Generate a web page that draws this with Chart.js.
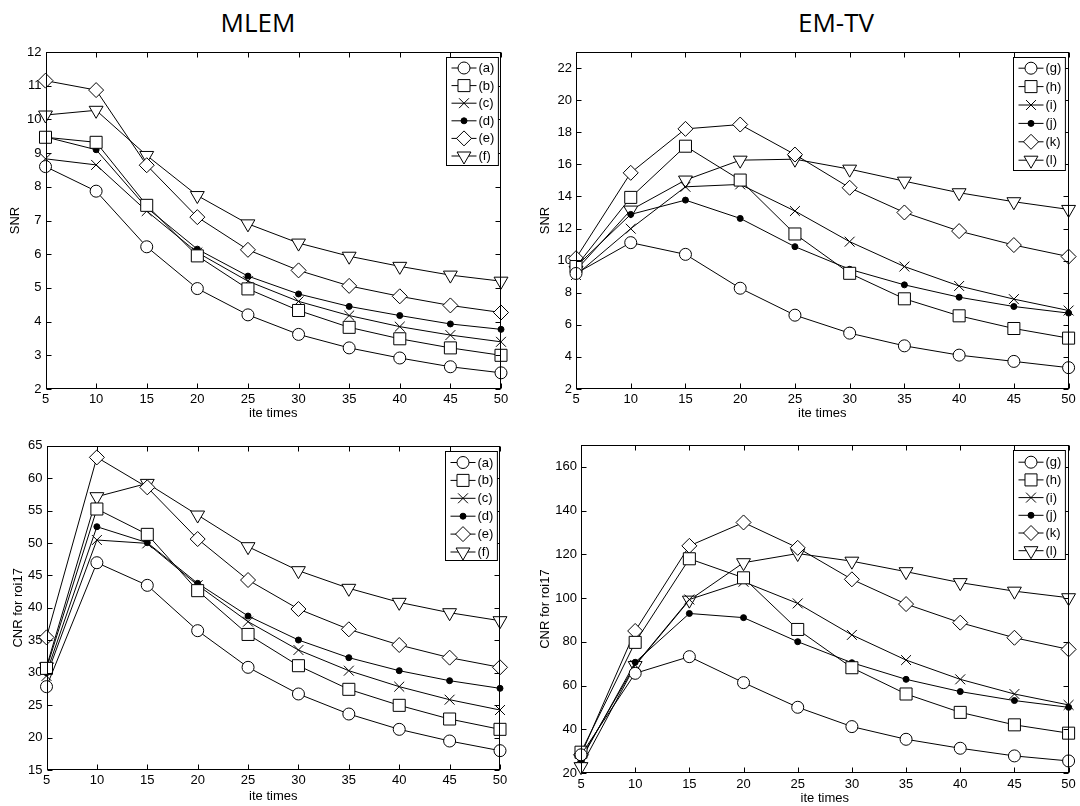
<!DOCTYPE html>
<html><head><meta charset="utf-8">
<script src="https://cdn.jsdelivr.net/npm/chart.js@4/dist/chart.umd.min.js"></script>
<style>
body{margin:0;background:#fff;width:1080px;height:806px;overflow:hidden;position:relative;font-family:"Liberation Sans",Arial,sans-serif}
.title{position:absolute;font-family:"Open Sans",sans-serif;font-size:26px;color:#000;transform:translate(-50%,-50%);white-space:nowrap;line-height:1}
.wrap{position:absolute}
</style></head><body>
<div class="title" style="left:258px;top:22px">MLEM</div>
<div class="title" style="left:836px;top:22px">EM-TV</div>
<div class="wrap" style="left:0px;top:40px;width:540px;height:381px"><canvas id="c1"></canvas></div>
<div class="wrap" style="left:538px;top:40px;width:542px;height:381px"><canvas id="c2"></canvas></div>
<div class="wrap" style="left:0px;top:425px;width:540px;height:381px"><canvas id="c3"></canvas></div>
<div class="wrap" style="left:538px;top:425px;width:542px;height:381px"><canvas id="c4"></canvas></div>
<script>
// ---------- data ----------
const iterations = [5,10,15,20,25,30,35,40,45,50];
const mlemLabels = ['(a)','(b)','(c)','(d)','(e)','(f)'];
const emtvLabels = ['(g)','(h)','(i)','(j)','(k)','(l)'];

const mlemSnrA = [8.6,7.87,6.22,4.98,4.2,3.62,3.22,2.92,2.66,2.48];
const mlemSnrB = [9.47,9.32,7.45,5.95,4.97,4.33,3.83,3.49,3.22,3.0];
const mlemSnrC = [8.83,8.65,7.28,6.05,5.2,4.6,4.18,3.85,3.6,3.4];
const mlemSnrD = [9.48,9.1,7.38,6.15,5.35,4.82,4.45,4.18,3.93,3.77];
const mlemSnrE = [11.15,10.87,8.64,7.1,6.13,5.52,5.06,4.75,4.48,4.27];
const mlemSnrF = [10.13,10.27,8.93,7.74,6.9,6.33,5.94,5.64,5.38,5.2];

const emtvSnrG = [9.2,11.12,10.39,8.28,6.6,5.48,4.69,4.11,3.72,3.33];
const emtvSnrH = [9.63,13.94,17.13,15.02,11.66,9.21,7.62,6.56,5.77,5.17];
const emtvSnrI = [9.1,11.99,14.6,14.75,13.09,11.18,9.63,8.42,7.6,6.89];
const emtvSnrJ = [9.63,12.88,13.77,12.63,10.87,9.46,8.49,7.72,7.14,6.73];
const emtvSnrK = [10.15,15.47,18.21,18.48,16.61,14.54,13.0,11.84,10.97,10.25];
const emtvSnrL = [9.4,13.15,15.02,16.26,16.32,15.7,14.95,14.23,13.67,13.19];

const mlemCnrA = [27.85,46.96,43.47,36.48,30.83,26.72,23.63,21.27,19.47,17.98];
const mlemCnrB = [30.67,55.24,51.33,42.65,35.9,31.08,27.44,24.97,22.86,21.27];
const mlemCnrC = [29.5,50.46,49.94,43.5,37.87,33.5,30.31,27.85,25.84,24.25];
const mlemCnrD = [30.0,52.51,50.05,43.78,38.74,35.04,32.32,30.31,28.77,27.59];
const mlemCnrE = [35.45,63.2,58.58,50.61,44.29,39.82,36.69,34.27,32.32,30.83];
const mlemCnrF = [30.9,57.14,59.19,54.31,49.43,45.73,43.01,40.85,39.25,38.02];

const emtvCnrG = [28.4,65.65,73.26,61.39,50.13,41.3,35.5,31.4,27.9,25.6];
const emtvCnrH = [29.6,79.8,118,109.3,85.7,68.2,56.2,47.8,42.1,38.3];
const emtvCnrI = [26.8,69.5,99.4,107.5,97.6,83.2,71.7,62.9,56.2,51.2];
const emtvCnrJ = [26.1,70.7,93.0,91.1,80.1,70.5,62.9,57.3,53.2,50.1];
const emtvCnrK = [28.4,85.0,123.9,134.6,123.0,108.6,97.3,88.8,81.9,76.6];
const emtvCnrL = [23.0,69.2,99.1,116.2,120.4,116.9,112.1,107.1,103.2,100.2];

const xRange = [5,50];
const mlemSnrTicks = [2,3,4,5,6,7,8,9,10,11,12];
const mlemSnrRange = [2,12];
const emtvSnrTicks = [2,4,6,8,10,12,14,16,18,20,22];
const emtvSnrRange = [2,23];
const mlemCnrTicks = [15,20,25,30,35,40,45,50,55,60,65];
const mlemCnrRange = [15,65];
const emtvCnrTicks = [20,40,60,80,100,120,140,160];
const emtvCnrRange = [20,170];

// ---------- styles ----------
const markerStyles = [
  {pointStyle:'circle', radius:6, fill:'#fff', rotation:0},
  {pointStyle:'rect', radius:8.5, fill:'#fff', rotation:0},
  {pointStyle:'crossRot', radius:7, fill:'#fff', rotation:0},
  {pointStyle:'circle', radius:3, fill:'#000', rotation:0},
  {pointStyle:'rectRot', radius:7.5, fill:'#fff', rotation:0},
  {pointStyle:'triangle', radius:8, fill:'#fff', rotation:180}
];
const FONT = '"Liberation Sans", Arial, sans-serif';

const boxPlugin = {
  id:'matlabBox',
  afterDatasetsDraw(chart){
    const {ctx, chartArea:a, scales} = chart;
    ctx.save();
    ctx.strokeStyle = '#000'; ctx.lineWidth = 1;
    const L = Math.round(a.left)+0.5, R = Math.round(a.right)-0.5, T = Math.round(a.top)+0.5, B = Math.round(a.bottom)-0.5;
    ctx.beginPath();
    scales.x.ticks.forEach(t=>{
      const px = Math.round(scales.x.getPixelForValue(t.value))+0.5;
      ctx.moveTo(px,B); ctx.lineTo(px,B-5);
      ctx.moveTo(px,T); ctx.lineTo(px,T+5);
    });
    scales.y.ticks.forEach(t=>{
      const py = Math.round(scales.y.getPixelForValue(t.value))+0.5;
      ctx.moveTo(L,py); ctx.lineTo(L+5,py);
      ctx.moveTo(R,py); ctx.lineTo(R-5,py);
    });
    ctx.stroke();
    ctx.strokeRect(L,T,R-L,B-T);
    ctx.restore();
  },
  afterDraw(chart){
    const o = chart.options.plugins.matlabBox;
    if(!o) return;
    const {ctx, chartArea:a} = chart;
    const ds = chart.data.datasets;
    ctx.save();
    ctx.font = o.fontSize + 'px ' + FONT;
    let tw = 0;
    ds.forEach(d=>{ tw = Math.max(tw, ctx.measureText(d.label).width); });
    const lineW = 25, padL = 5, gap = 2, padR = 4;
    const w = padL + lineW + gap + tw + padR;
    const h = o.height;
    const x0 = Math.round(a.right - o.rightGap - w)+0.5, y0 = Math.round(a.top + o.topGap)+0.5;
    ctx.fillStyle = '#fff';
    ctx.fillRect(x0,y0,w,h);
    ctx.strokeStyle = '#000'; ctx.lineWidth = 1;
    ctx.strokeRect(x0,y0,w,h);
    ds.forEach((d,i)=>{
      const cy = y0 + o.firstRow + i*o.rowH;
      ctx.beginPath();
      ctx.moveTo(x0+padL, cy); ctx.lineTo(x0+padL+lineW, cy);
      ctx.lineWidth = 1; ctx.strokeStyle = '#000'; ctx.stroke();
      ctx.fillStyle = d.pointBackgroundColor;
      ctx.strokeStyle = '#000';
      Chart.helpers.drawPoint(ctx, {pointStyle:d.pointStyle, radius:d.pointRadius, rotation:d.pointRotation, borderWidth:1}, x0+padL+lineW/2, cy);
      ctx.fillStyle = '#000';
      ctx.textBaseline = 'middle'; ctx.textAlign = 'left';
      ctx.fillText(d.label, x0+padL+lineW+gap, cy+0.5);
    });
    ctx.restore();
  }
};

function makeChart(id, labels, series, yTicks, yRange, yTitle, L){
  const datasets = series.map((vals,i)=>{
    const m = markerStyles[i];
    return {
      label: labels[i],
      data: iterations.map((x,j)=>({x:x, y:vals[j]})),
      borderColor:'#000', borderWidth:1, tension:0, fill:false,
      pointStyle:m.pointStyle, pointRadius:m.radius, pointRotation:m.rotation,
      pointBackgroundColor:m.fill, pointBorderColor:'#000', pointBorderWidth:1,
      pointHoverRadius:m.radius, clip:false
    };
  });
  return new Chart(document.getElementById(id), {
    type:'line',
    data:{datasets},
    plugins:[boxPlugin],
    options:{
      responsive:true, maintainAspectRatio:false, animation:false,
      layout:{padding:{top:L.top, right:L.right, left:0, bottom:L.bottom||0}},
      plugins:{legend:{display:false}, tooltip:{enabled:false},
        matlabBox:{fontSize:13, height:L.legH, rowH:L.rowH, firstRow:L.firstRow, topGap:5, rightGap:3.5}},
      scales:{
        x:{type:'linear', min:xRange[0], max:xRange[1],
          afterBuildTicks(s){ s.ticks = iterations.map(v=>({value:v})); },
          afterFit(s){ s.height = L.xh; },
          grid:{display:false, drawTicks:false}, border:{display:false},
          ticks:{color:'#000', font:{family:FONT, size:13}, padding:3, maxRotation:0, autoSkip:false},
          title:{display:true, text:'ite times', color:'#000', font:{family:FONT, size:13}, padding:{top:0,bottom:0}}
        },
        y:{type:'linear', min:yRange[0], max:yRange[1],
          afterBuildTicks(s){ s.ticks = yTicks.map(v=>({value:v})); },
          afterFit(s){ s.width = L.yw; },
          grid:{display:false, drawTicks:false}, border:{display:false},
          ticks:{color:'#000', font:{family:FONT, size:13}, padding:4, autoSkip:false},
          title:{display:true, text:yTitle, color:'#000', font:{family:FONT, size:13}, padding:{top:L.ytp,bottom:0}}
        }
      }
    }
  });
}

makeChart('c1', mlemLabels, [mlemSnrA,mlemSnrB,mlemSnrC,mlemSnrD,mlemSnrE,mlemSnrF], mlemSnrTicks, mlemSnrRange, 'SNR',
  {top:12, right:39, xh:32, yw:45.5, ytp:8, legH:108, rowH:17.6, firstRow:10.5});
makeChart('c2', emtvLabels, [emtvSnrG,emtvSnrH,emtvSnrI,emtvSnrJ,emtvSnrK,emtvSnrL], emtvSnrTicks, emtvSnrRange, 'SNR',
  {top:12, right:11.4, xh:32, yw:38, ytp:0, legH:113, rowH:18.4, firstRow:10.7});
makeChart('c3', mlemLabels, [mlemCnrA,mlemCnrB,mlemCnrC,mlemCnrD,mlemCnrE,mlemCnrF], mlemCnrTicks, mlemCnrRange, 'CNR for roi17',
  {top:20.7, right:40, xh:34.5, yw:46.5, ytp:11, bottom:1.5, legH:109, rowH:17.9, firstRow:11});
makeChart('c4', emtvLabels, [emtvCnrG,emtvCnrH,emtvCnrI,emtvCnrJ,emtvCnrK,emtvCnrL], emtvCnrTicks, emtvCnrRange, 'CNR for roi17',
  {top:20, right:11.4, xh:32.8, yw:43, ytp:0, legH:109, rowH:17.7, firstRow:11.7});
</script>
</body></html>
